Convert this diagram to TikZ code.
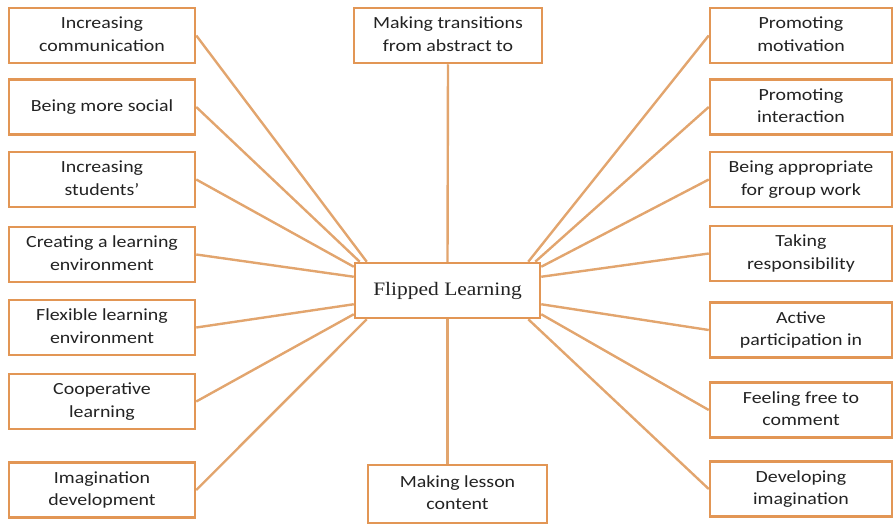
\documentclass[tikz,border=0pt]{standalone}
\usepackage{fontspec}
\setmainfont{Carlito}
\newfontfamily\serifc{Liberation Serif}
\usepackage{graphicx}
\usetikzlibrary{backgrounds}
\definecolor{boxc}{RGB}{226,150,85}
\definecolor{linec}{RGB}{226,165,110}
\definecolor{txt}{RGB}{35,35,35}
\newcommand{\bt}[1]{\scalebox{1.17}[1]{\begin{tabular}{@{}c@{}}#1\end{tabular}}}
\begin{document}
\begin{tikzpicture}[x=1pt,y=-1pt,
  box/.style={draw=boxc, line width=2.5pt, fill=white, minimum width=186pt, minimum height=55pt, inner sep=0pt, font=\fontsize{17}{22.5}\selectfont, text=txt, align=center},
  rbox/.style={box, minimum width=182pt},
  cbox/.style={box, minimum width=185pt, font=\serifc\fontsize{19}{22}\selectfont},
  conn/.style={draw=linec, line width=2.4pt}]
\useasboundingbox (0,0) rectangle (894,525);
% left column
\node[box] (l1) at (102,35.5) {\bt{Increasing\\communication}};
\node[box] (l2) at (102,107) {\bt{Being more social}};
\node[box] (l3) at (102,179.5) {\bt{Increasing\\students'}};
\node[box] (l4) at (102,254.5) {\bt{Creating a learning\\environment}};
\node[box] (l5) at (102,327.5) {\bt{Flexible learning\\environment}};
\node[box] (l6) at (102,401.5) {\bt{Cooperative\\learning}};
\node[box] (l7) at (102,490) {\bt{Imagination\\development}};
% right column
\node[rbox] (r1) at (801,35.5) {\bt{Promoting\\motivation}};
\node[rbox] (r2) at (801,107) {\bt{Promoting\\interaction}};
\node[rbox] (r3) at (801,179.5) {\bt{Being appropriate\\for group work}};
\node[rbox] (r4) at (801,253.5) {\bt{Taking\\responsibility}};
\node[rbox] (r5) at (801,330) {\bt{Active\\participation in}};
\node[rbox] (r6) at (801,410) {\bt{Feeling free to\\comment}};
\node[rbox] (r7) at (801,489) {\bt{Developing\\imagination}};
% centre column
\node[box, minimum width=188pt] (top) at (448,35.5) {\bt{Making transitions\\from abstract to}};
\node[cbox] (c) at (447.5,290.5) {\scalebox{1.13}[1]{Flipped Learning}};
\node[box, minimum width=179pt, minimum height=58pt] (bot) at (457.5,494) {\bt{Making lesson\\content}};
\begin{scope}[on background layer]
\draw[conn] (top.south) -- (c.north);
\draw[conn] (c.south) -- (c.south |- bot.north);
\draw[conn] (l1.east) -- ([xshift=13pt]c.north west);
\draw[conn] (l2.east) -- ([xshift=6pt]c.north west);
\draw[conn] (l3.east) -- ([yshift=-5pt]c.north west);
\draw[conn] (l4.east) -- ([yshift=-15pt]c.north west);
\draw[conn] (l5.east) -- ([yshift=15pt]c.south west);
\draw[conn] (l6.east) -- ([yshift=5pt]c.south west);
\draw[conn] (l7.east) -- ([xshift=13pt]c.south west);
\draw[conn] (r1.west) -- ([xshift=-13pt]c.north east);
\draw[conn] (r2.west) -- ([xshift=-6pt]c.north east);
\draw[conn] (r3.west) -- ([yshift=-5pt]c.north east);
\draw[conn] (r4.west) -- ([yshift=-15pt]c.north east);
\draw[conn] (r5.west) -- ([yshift=15pt]c.south east);
\draw[conn] (r6.west) -- ([yshift=5pt]c.south east);
\draw[conn] (r7.west) -- ([xshift=-13pt]c.south east);
\end{scope}
\end{tikzpicture}
\end{document}
